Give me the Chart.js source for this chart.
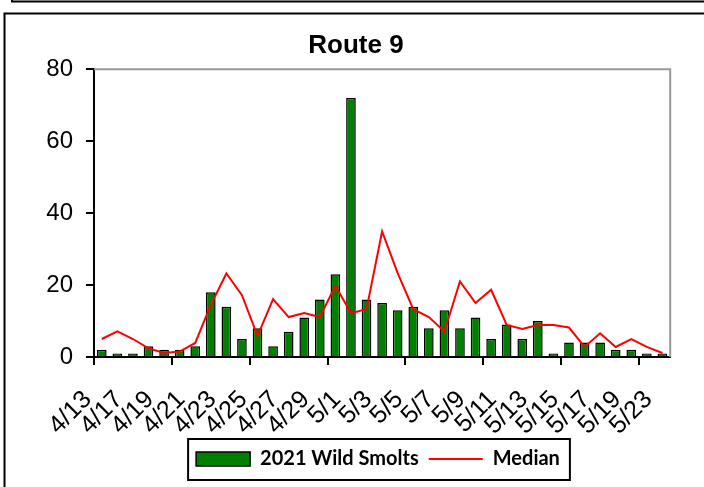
<!DOCTYPE html>
<html>
<head>
<meta charset="utf-8">
<script src="https://cdn.jsdelivr.net/npm/chart.js@4/dist/chart.umd.min.js"></script>
<style>
  html, body { margin: 0; padding: 0; background: #fff; }
  #wrap { position: relative; width: 704px; height: 487px; }
</style>
</head>
<body>
<div id="wrap"><canvas id="smoltChart" width="704" height="487"></canvas></div>
<script>
// dates sampled at the Route 9 trap
const dates = ['4/13', '4/16', '4/17', '4/18', '4/19', '4/20', '4/21', '4/22', '4/23', '4/24',
               '4/25', '4/26', '4/27', '4/28', '4/29', '4/30', '5/1', '5/2', '5/3', '5/4',
               '5/5', '5/6', '5/7', '5/8', '5/9', '5/10', '5/11', '5/12', '5/13', '5/14',
               '5/15', '5/16', '5/17', '5/18', '5/19', '5/21', '5/23'];

// 2021 wild smolt counts
const wildSmolts = [2, 1, 1, 3, 2, 2, 3, 18, 14, 5,
                    8, 3, 7, 11, 16, 23, 72, 16, 15, 13,
                    14, 8, 13, 8, 11, 5, 9, 5, 10, 1,
                    4, 4, 4, 2, 2, 1, 1];

// historical median
const median = [5.0, 7.1, 5.0, 2.4, 1.1, 1.5, 3.9, 14.5, 23.2, 17.2,
                5.9, 16.1, 11.1, 12.2, 11.1, 19.8, 12.2, 13.3, 34.9, 23.3,
                13.3, 11.1, 7.1, 21.0, 15.0, 18.7, 8.9, 7.8, 8.9, 8.9,
                8.2, 2.8, 6.6, 2.8, 5.0, 2.8, 1.1];

const yTicks = [0, 20, 40, 60, 80];

// box lines around the chart + grey top/right of plot area
const framePlugin = {
    id: 'frame',
    beforeDraw(chart) {
        const ctx = chart.ctx;
        ctx.save();
        ctx.strokeStyle = '#000';
        ctx.lineWidth = 2;
        ctx.beginPath();
        ctx.moveTo(12, 0); ctx.lineTo(12, 1.5); ctx.lineTo(704, 1.5);
        ctx.moveTo(4.5, 487); ctx.lineTo(4.5, 13.5); ctx.lineTo(704, 13.5);
        ctx.stroke();
        ctx.restore();
    },
    beforeDatasetsDraw(chart) {
        const {ctx, chartArea} = chart;
        ctx.save();
        ctx.strokeStyle = '#999';
        ctx.lineWidth = 2;
        ctx.beginPath();
        ctx.moveTo(chartArea.left, chartArea.top);
        ctx.lineTo(chartArea.right, chartArea.top);
        ctx.lineTo(chartArea.right, chartArea.bottom);
        ctx.stroke();
        ctx.restore();
    },
    afterLayout(chart) {
        // legend sits a bit right of the title in the original
        chart.legend.left += 22;
        chart.legend.right += 22;
    },
    afterDraw(chart) {
        const boxes = chart.legend.legendHitBoxes;
        if (!boxes || !boxes.length) return;
        const first = boxes[0], last = boxes[boxes.length - 1];
        const cy = first.top + first.height / 2;
        const ctx = chart.ctx;
        ctx.save();
        ctx.strokeStyle = '#000';
        ctx.lineWidth = 2;
        ctx.strokeRect(first.left - 8, cy - 20, last.left + last.width - first.left + 18, 41);
        ctx.restore();
    }
};

const ctx = document.getElementById('smoltChart').getContext('2d');
new Chart(ctx, {
    type: 'bar',
    data: {
        labels: dates,
        datasets: [
            {
                label: '2021 Wild Smolts',
                data: wildSmolts,
                backgroundColor: '#008000',
                borderColor: '#000',
                borderWidth: 1.5,
                barPercentage: 0.62,
                categoryPercentage: 1,
                order: 2
            },
            {
                label: 'Median',
                type: 'line',
                data: median,
                borderColor: '#ff0000',
                backgroundColor: '#ff0000',
                borderWidth: 2,
                pointRadius: 0,
                tension: 0,
                fill: false,
                order: 1
            }
        ]
    },
    options: {
        responsive: false,
        animation: false,
        layout: {
            padding: { left: 35, right: 27, top: 24, bottom: 8 }
        },
        scales: {
            x: {
                offset: true,
                grid: {
                    offset: true,
                    drawOnChartArea: false,
                    tickLength: 8,
                    lineWidth: 2,
                    tickColor: (c) => c.index % 5 === 0 ? '#000' : 'rgba(0,0,0,0)'
                },
                border: { color: '#000', width: 2 },
                ticks: {
                    autoSkip: false,
                    minRotation: 45,
                    maxRotation: 45,
                    padding: 20,
                    labelOffset: -14,
                    color: '#000',
                    font: { family: 'Liberation Sans', size: 25 },
                    callback: function(value, index) {
                        return index % 2 === 0 ? dates[index] : '';
                    }
                },
                afterFit: (s) => { s.height = 82; }
            },
            y: {
                min: 0,
                max: 80,
                afterBuildTicks: (s) => { s.ticks = yTicks.map(v => ({ value: v })); },
                grid: {
                    drawOnChartArea: false,
                    tickLength: 8,
                    lineWidth: 2,
                    color: '#000'
                },
                border: { color: '#000', width: 2 },
                ticks: {
                    padding: 13,
                    color: '#000',
                    font: { family: 'Liberation Sans', size: 24 }
                },
                afterFit: (s) => { s.width = 59; }
            }
        },
        plugins: {
            title: {
                display: true,
                text: 'Route 9',
                color: '#000',
                font: { family: 'Liberation Sans', size: 26, weight: 'bold' },
                padding: { top: 6, bottom: 8 }
            },
            legend: {
                position: 'bottom',
                labels: {
                    usePointStyle: true,
                    pointStyleWidth: 54,
                    boxHeight: 14,
                    padding: 10,
                    color: '#000',
                    font: { family: 'Lato', size: 20, weight: 'bold' },
                    generateLabels: (chart) => chart.data.datasets.map((ds, i) => ({
                        text: ds.label,
                        fillStyle: ds.backgroundColor,
                        strokeStyle: i === 0 ? '#000' : ds.borderColor,
                        lineWidth: i === 0 ? 1.5 : 2,
                        pointStyle: i === 0 ? 'rect' : 'line',
                        fontColor: '#000',
                        datasetIndex: i
                    }))
                }
            },
            tooltip: { enabled: false }
        }
    },
    plugins: [framePlugin]
});
</script>
</body>
</html>
